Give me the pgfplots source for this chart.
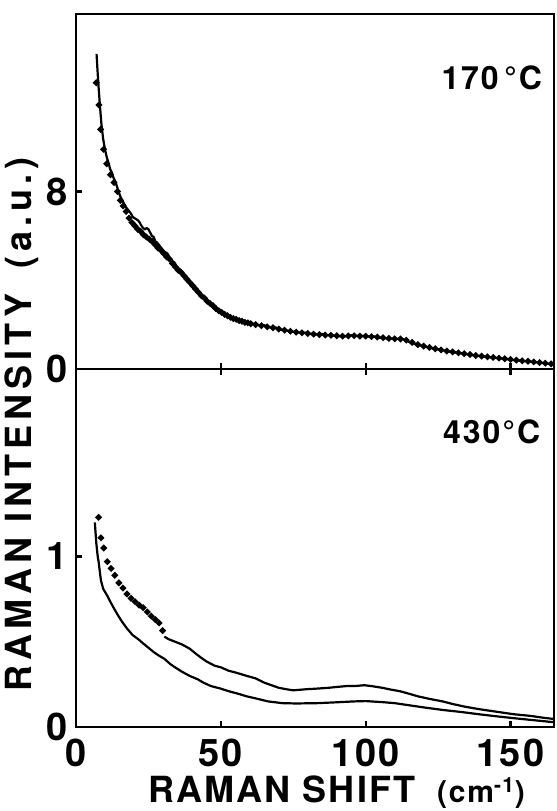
\documentclass[border=0pt]{standalone}
\usepackage{fontspec}
\setmainfont[LetterSpace=6]{TeX Gyre Heros}
\newfontfamily\widefont[LetterSpace=14]{TeX Gyre Heros}
\usepackage{pgfplots}
\usepackage{pgfplotstable}
\pgfplotsset{compat=1.18}

% 170 C: solid trace
\pgfplotstableread{
x y
7.1 14.2
7.4 13.5
7.8 12.7
8.3 11.8
8.8 11.0
9.4 10.35
10.0 9.9
10.6 9.55
11.2 9.3
11.8 9.0
12.4 8.85
13.0 8.6
13.6 8.45
14.2 8.2
14.8 7.95
15.4 7.75
16.0 7.6
16.6 7.45
17.2 7.3
17.8 7.2
18.4 7.1
19.0 7.0
19.6 6.85
20.2 6.8
20.8 6.75
21.4 6.7
22.0 6.6
22.6 6.45
23.2 6.35
23.8 6.3
24.4 6.35
25.0 6.3
25.6 6.15
26.2 6.0
26.8 5.95
27.4 5.75
28.0 5.7
28.6 5.6
29.2 5.5
29.8 5.4
30.4 5.3
31.0 5.25
31.6 5.2
32.2 5.05
32.8 4.95
33.4 4.85
34.0 4.8
34.6 4.65
35.2 4.55
35.8 4.5
36.4 4.35
37.0 4.3
37.6 4.15
38.2 4.05
38.8 3.95
39.4 3.85
40 3.8
41 3.65
42 3.5
43 3.35
44 3.25
45 3.1
46 2.98
47 2.88
48 2.75
49 2.66
50 2.58
51 2.5
52 2.42
53 2.38
54 2.3
55 2.28
56 2.2
57 2.18
58 2.12
59 2.15
60 2.06
61 2.04
62 2.05
63 1.98
64 1.95
65 1.97
66 1.9
67 1.88
68 1.85
69 1.87
70 1.8
71 1.76
72 1.78
73 1.72
74 1.7
75 1.68
76 1.7
77 1.64
78 1.62
79 1.64
80 1.6
81 1.58
82 1.61
83 1.56
84 1.55
85 1.58
86 1.53
87 1.52
88 1.55
89 1.5
90 1.51
91 1.48
92 1.5
93 1.47
94 1.5
95 1.52
96 1.49
97 1.5
98 1.46
99 1.49
100 1.5
101 1.46
102 1.45
103 1.47
104 1.42
105 1.4
106 1.43
107 1.38
108 1.36
109 1.38
110 1.34
111 1.36
112 1.38
113 1.34
114 1.27
115 1.22
116 1.18
117 1.12
118 1.09
119 1.06
120 1.02
121 1.0
122 0.97
123 0.93
124 0.9
125 0.88
126 0.85
127 0.84
128 0.8
129 0.78
130 0.77
131 0.74
132 0.72
133 0.71
134 0.68
135 0.66
136 0.65
137 0.62
138 0.6
139 0.59
140 0.57
141 0.56
142 0.55
143 0.53
144 0.52
145 0.5
146 0.5
147 0.47
148 0.46
149 0.44
150 0.42
151 0.4
152 0.4
153 0.38
154 0.36
155 0.35
156 0.34
157 0.33
158 0.31
159 0.3
160 0.28
161 0.27
162 0.25
163 0.24
164 0.22
165 0.21
}\hotline

% 170 C: dotted trace
\pgfplotstableread{
x y
7.0 12.9
7.9 11.9
8.5 10.8
9.5 9.9
10.6 9.25
11.9 8.75
13.1 8.4
14.3 8.0
15.3 7.6
16.3 7.35
17.3 7.1
18.3 6.8
19.3 6.6
20.3 6.45
21.3 6.3
22.3 6.2
23.3 6.05
24.3 5.95
25.3 5.85
26.3 5.75
27.3 5.6
28.3 5.45
29.3 5.35
30.3 5.2
31.3 5.05
32.3 4.95
33.3 4.75
34.3 4.6
35.3 4.45
36.3 4.35
37.3 4.2
38.3 4.05
39.3 3.9
40.3 3.75
41.3 3.6
42.3 3.45
43.3 3.3
44.3 3.2
45.3 3.05
46.3 2.95
47.3 2.85
48.3 2.72
49.3 2.62
50.3 2.55
51.3 2.46
52.3 2.4
53.3 2.33
54.3 2.27
55.3 2.24
56.3 2.18
57.3 2.15
58.3 2.1
59.3 2.08
60.3 2.04
62 2.0
64 1.95
66 1.9
68 1.86
70 1.8
72 1.75
74 1.7
76 1.66
78 1.63
80 1.6
82 1.57
84 1.55
86 1.53
88 1.52
90 1.5
92 1.48
94 1.49
96 1.5
98 1.48
100 1.48
102 1.46
104 1.44
106 1.41
108 1.38
110 1.36
112 1.35
114 1.3
116 1.2
118 1.1
120 1.03
122 0.97
124 0.91
126 0.86
128 0.81
130 0.77
132 0.73
134 0.69
136 0.65
138 0.61
140 0.58
142 0.55
144 0.52
146 0.49
148 0.46
150 0.43
152 0.4
154 0.37
156 0.35
158 0.32
160 0.29
162 0.26
164 0.23
}\hotdots

% 430 C: lower solid trace
\pgfplotstableread{
x y
6.5 1.2
7.0 1.08
7.5 1.0
7.8 0.97
8.6 0.86
9.4 0.81
10.8 0.77
12 0.73
13.3 0.69
14.5 0.655
15.8 0.62
17.5 0.58
19.5 0.54
21.5 0.515
23.2 0.49
25 0.465
26.8 0.44
28.5 0.42
30.5 0.40
32.5 0.37
34.2 0.35
36.5 0.325
39.2 0.30
42 0.28
44 0.26
46.6 0.24
50 0.225
52.7 0.21
56 0.195
58.9 0.18
62 0.168
66.3 0.15
71.2 0.14
76 0.138
83.5 0.14
90 0.145
95.8 0.15
100 0.152
105.7 0.146
110 0.14
114 0.13
120 0.115
126.6 0.10
133 0.088
139 0.075
145 0.063
151 0.052
158 0.04
165 0.028
}\coolline

% 430 C: upper trace, dots at the start
\pgfplotstableread{
x y
7.8 1.23
8.6 1.11
9.6 1.05
10.8 0.97
12.1 0.93
13.4 0.89
14.8 0.845
16.2 0.815
17.6 0.78
19.0 0.755
20.4 0.735
21.8 0.715
23.2 0.70
24.6 0.675
26.0 0.65
27.4 0.63
28.7 0.61
29.9 0.565
}\cooldots

% 430 C: upper trace, continuous part
\pgfplotstableread{
x y
30.5 0.53
32 0.515
34.2 0.50
36.5 0.485
39.2 0.46
41 0.435
42.9 0.41
45 0.385
47.8 0.36
50 0.35
52.7 0.33
55 0.32
58.9 0.30
62 0.285
65 0.26
67.5 0.245
70 0.23
72.5 0.222
74.9 0.215
77 0.218
79.8 0.222
83 0.225
87.2 0.23
90 0.235
93.3 0.24
96 0.24
99.5 0.245
102 0.24
105.7 0.23
108.5 0.22
111.8 0.21
115 0.195
118 0.18
122 0.165
126.6 0.15
130 0.135
134 0.12
139 0.105
143.8 0.093
147 0.085
151 0.075
154 0.07
157 0.065
161 0.055
165 0.047
}\coolupper

\pgfplotsset{
  panel/.style={
    scale only axis, width=239pt,
    xmin=0, xmax=165,
    line width=1.4pt,
    tick style={line width=1.2pt, black},
    major tick length=2.8pt,
    tick align=inside,
    ytick pos=left,
    tick label style={font=\fontsize{19}{19}\selectfont\bfseries},
    /pgf/number format/assume math mode=true,
  },
  trace/.style={black, line width=1.1pt, no marks},
  dots/.style={black, only marks, mark=*, mark size=0.8pt,
    mark options={draw=none, fill=black}},
}

\begin{document}
\begin{tikzpicture}
\begin{axis}[panel, name=top, height=177.5pt,
  ymin=0, ymax=16, ytick={0,8},
  xtick={50,100,150}, xticklabels={}, xtick pos=left]
\addplot[trace] table {\hotline};
\addplot[dots] table {\hotdots};
\node[font=\fontsize{16}{16}\selectfont\bfseries] at (axis cs:143.5,13.1) {170\,°C};
\end{axis}

\begin{axis}[panel, name=bot, height=179pt,
  at={(top.south west)}, anchor=north west,
  ymin=0, ymax=2.1, ytick={0,1},
  xtick={0,50,100,150}, xtick pos=both,
  xticklabel style={yshift=-2pt},
  xlabel={RAMAN SHIFT\hspace{0.6em}{\fontsize{15}{15}\selectfont(cm\textsuperscript{-1})}},
  ylabel={\widefont RAMAN INTENSITY\hspace{0.7em}(a.u.)},
  label style={font=\fontsize{18}{18}\selectfont\bfseries},
  xlabel style={at={(axis description cs:0.545,-0.212)}, anchor=base, inner sep=0pt},
  ylabel style={at={(axis description cs:-0.113,0.845)}, anchor=center}]
\addplot[trace] table {\coolline};
\addplot[dots] table {\cooldots};
\addplot[trace] table {\coolupper};
\node[font=\fontsize{16}{16}\selectfont\bfseries] at (axis cs:143.5,1.73) {430°C};
\end{axis}

\pgfresetboundingbox
\path[use as bounding box] ([shift={(-38pt,-42pt)}]bot.south west) rectangle ([shift={(1pt,7pt)}]top.north east);
\end{tikzpicture}
\end{document}
